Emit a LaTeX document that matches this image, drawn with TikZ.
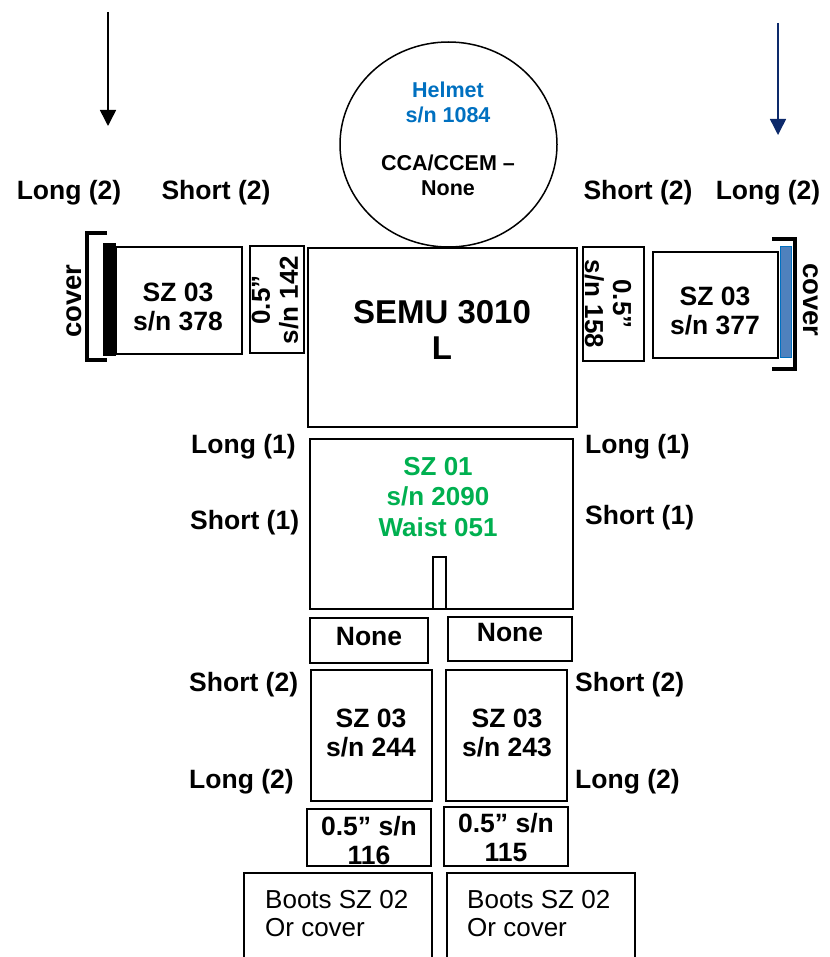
\documentclass[tikz,border=0pt]{standalone}
\usepackage{fontspec}
\setmainfont{Liberation Sans}
\usetikzlibrary{arrows.meta,shapes.geometric}
\definecolor{helmetblue}{HTML}{0070C0}
\definecolor{waistgreen}{HTML}{00B050}
\definecolor{navyarrow}{HTML}{0D2A6B}
\definecolor{barblue}{HTML}{4F81BD}
\tikzset{
  box/.style={draw=black, line width=1.8pt, inner sep=0pt, fill=none},
  lbl/.style={inner sep=0pt, font=\fontsize{26.5}{29}\selectfont\bfseries, align=center},
  lblsmall/.style={inner sep=0pt, font=\fontsize{21.5}{25}\selectfont\bfseries, align=center},
  lblbig/.style={inner sep=0pt, font=\fontsize{33}{36}\selectfont\bfseries, align=center},
  lblreg/.style={inner sep=0pt, font=\fontsize{26}{28}\selectfont, align=left},
  bracket/.style={line width=3.5pt},
  downarrow/.style={line width=1.5pt, -{Triangle[width=16pt,length=16pt]}}
}
\begin{document}
\begin{tikzpicture}[x=1pt,y=-1pt]
\useasboundingbox (0,0) rectangle (829,957);
\clip (0,0) rectangle (829,957);

% arrows
\coordinate (la1) at (108,12);
\coordinate (la2) at (108,126);
\draw[downarrow] (la1) -- (la2);
\coordinate (ra1) at (778,23);
\coordinate (ra2) at (778,135);
\draw[downarrow, navyarrow] (ra1) -- (ra2);

% top labels
\node[lbl] (tl1) at (69,193) {Long (2)};
\node[lbl] (tl2) at (216,193) {Short (2)};
\node[lbl] (tr1) at (638,193) {Short (2)};
\node[lbl] (tr2) at (768,193) {Long (2)};

% helmet
\node[ellipse, draw, line width=1.5pt, minimum width=217pt, minimum height=205pt, inner sep=0pt] (helmet) at (448.5,144.5) {};
\node[lblsmall, text=helmetblue] (helmettxt) at (448,102) {Helmet\\s/n 1084};
\node[lblsmall] (ccatxt) at (448,175) {CCA/CCEM --\\None};

% SEMU
\node[box, minimum width=269pt, minimum height=179pt] (semu) at (442.5,337.5) {};
\node[lblbig] (semutxt) at (442,330) {SEMU 3010\\L};

% left arm
\node[box, minimum width=54pt, minimum height=107pt] (lsmall) at (277,299.5) {};
\node[lbl, rotate=90, font=\fontsize{26}{28}\selectfont\bfseries] (lsmalltxt) at (275,300) {0.5”\\s/n 142};
\node[box, minimum width=126pt, minimum height=107pt] (larm) at (179,300.5) {};
\node[lbl] (larmtxt) at (178,307.5) {SZ 03\\s/n 378};
\node[fill=black, draw=black, inner sep=0pt, minimum width=12pt, minimum height=112pt] (lbar) at (109,299) {};
\draw[bracket] (107,233) -- (87,233) -- (87,360) -- (107,360);
\node[lbl, rotate=90, font=\fontsize{27.5}{30}\selectfont\bfseries] (lcover) at (74,301) {cover};

% right arm
\node[box, minimum width=61pt, minimum height=114pt] (rsmall) at (613.5,304) {};
\node[lbl, rotate=-90, font=\fontsize{26}{28}\selectfont\bfseries] (rsmalltxt) at (608,304) {0.5”\\s/n 158};
\node[box, minimum width=125pt, minimum height=106pt] (rarm) at (715.5,305) {};
\node[lbl] (rarmtxt) at (715,311) {SZ 03\\s/n 377};
\node[fill=barblue, draw=helmetblue, line width=1pt, inner sep=0pt, minimum width=11pt, minimum height=110pt] (rbar) at (785.5,302) {};
\draw[bracket] (772,239) -- (795,239) -- (795,369) -- (772,369);
\node[lbl, rotate=-90, font=\fontsize{27.5}{30}\selectfont\bfseries] (rcover) at (811,300) {cover};

% waist
\node[box, minimum width=263pt, minimum height=170pt] (waist) at (441.5,524) {};
\node[lbl, text=waistgreen, font=\fontsize{26}{30.5}\selectfont\bfseries] (waisttxt) at (438,497) {SZ 01\\s/n 2090\\Waist 051};
\node[box, minimum width=13pt, minimum height=52pt] (slit) at (439.5,583) {};
\node[lbl, anchor=west] (wl1) at (191,447) {Long (1)};
\node[lbl, anchor=west] (wl2) at (190,523) {Short (1)};
\node[lbl, anchor=west] (wr1) at (585,447) {Long (1)};
\node[lbl, anchor=west] (wr2) at (585,518) {Short (1)};

% none boxes
\node[box, minimum width=118pt, minimum height=45pt] (lnone) at (369,640.5) {};
\node[lbl] (lnonetxt) at (369,637) {None};
\node[box, minimum width=124pt, minimum height=44pt] (rnone) at (510,639) {};
\node[lbl] (rnonetxt) at (510,633) {None};

% legs
\node[box, minimum width=121pt, minimum height=131pt] (lleg) at (371.5,735.5) {};
\node[lbl] (llegtxt) at (371,733) {SZ 03\\s/n 244};
\node[box, minimum width=121pt, minimum height=131pt] (rleg) at (506.5,735.5) {};
\node[lbl] (rlegtxt) at (507,733) {SZ 03\\s/n 243};
\node[lbl, anchor=west] (ll1) at (189,685) {Short (2)};
\node[lbl, anchor=west] (ll2) at (189,782) {Long (2)};
\node[lbl, anchor=west] (rl1) at (575,685) {Short (2)};
\node[lbl, anchor=west] (rl2) at (575,782) {Long (2)};

% 0.5" boxes
\node[lbl] (lhalftxt) at (369,841) {0.5” s/n\\116};
\node[box, minimum width=124pt, minimum height=57pt] (lhalf) at (369,837.5) {};
\node[lbl] (rhalftxt) at (506,838) {0.5” s/n\\115};
\node[box, minimum width=124pt, minimum height=59pt] (rhalf) at (506,836.5) {};

% boots
\node[box, minimum width=188pt, minimum height=100pt] (lboot) at (338,923) {};
\node[lblreg, anchor=west] (lboottxt) at (265,914) {Boots SZ 02\\Or cover};
\node[box, minimum width=188pt, minimum height=100pt] (rboot) at (541,923) {};
\node[lblreg, anchor=west] (rboottxt) at (467,914) {Boots SZ 02\\Or cover};
\end{tikzpicture}
\end{document}
